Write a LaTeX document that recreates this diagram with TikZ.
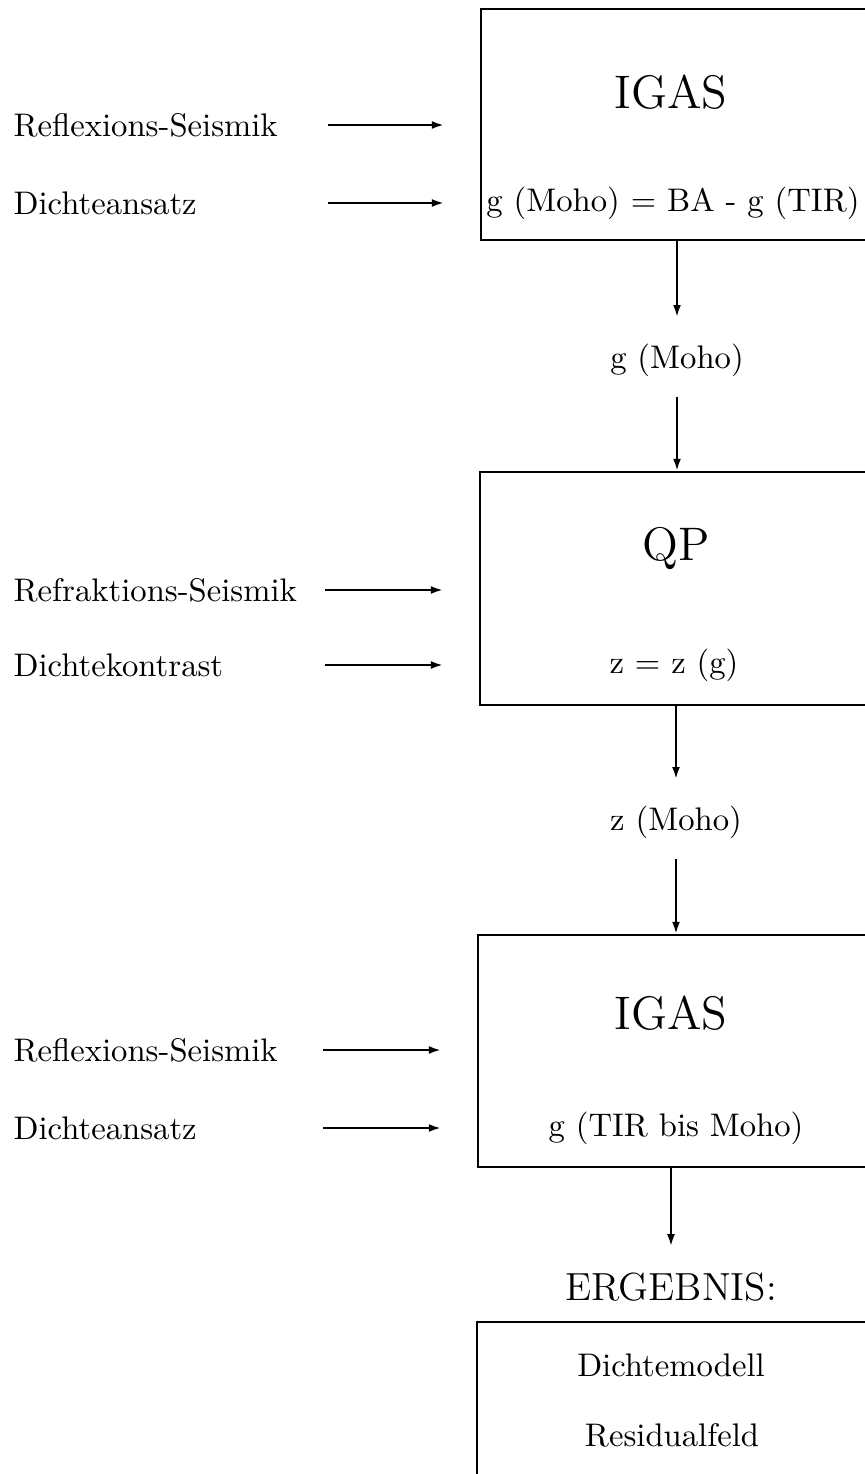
\documentclass[tikz,border=0pt]{standalone}
\usepackage{tikz}
\usetikzlibrary{positioning}
\usetikzlibrary{fit}
\usetikzlibrary{arrows.meta}

\begin{document}
\begin{tikzpicture}
 [ x=0.306pt, y=-0.306pt
 , box/.style={draw, line width=0.8pt, inner sep=0pt}
 , txt/.style={inner sep=0pt}
 , lab/.style={inner sep=0pt, anchor=west}
 , arr/.style={line width=0.6pt, -{Latex[length=3.6pt, width=2.4pt]}}
 , into/.style={arr, shorten >=11pt}
 ]
  \useasboundingbox (0,0) rectangle (865,1474);
  \clip (0,0) rectangle (865,1474);

  % the boxes (right side runs off the page)
  \node [box, fit={(481,9) (870,240)}] (igasA) {};
  \node [box, fit={(480,472) (870,705)}] (qp) {};
  \node [box, fit={(478,935) (870,1167)}] (igasB) {};
  \node [box, fit={(477,1322) (870,1500)}] (result) {};

  % texts in the boxes
  \node [txt] (igasAtitle) at (671,92) {\Large IGAS};
  \node [txt] (igasAformula) at (673,203) {g (Moho) = BA - g (TIR)};
  \node [txt] (qptitle) at (676,548) {\Large QP};
  \node [txt] (qpformula) at (674,665) {z = z (g)};
  \node [txt] (igasBtitle) at (671,1013) {\Large IGAS};
  \node [txt] (igasBformula) at (676,1128) {g (TIR bis Moho)};
  \node [txt] (model) at (671,1365) {Dichtemodell};
  \node [txt] (residual) at (672,1435) {Residualfeld};

  % texts between the boxes
  \node [txt] (gmoho) at (677,360) {g (Moho)};
  \node [txt] (zmoho) at (676,822) {z (Moho)};
  \node [txt] (ergebnis) at (671,1287) {\large ERGEBNIS:};

  % inputs on the left
  \node [lab] (reflA) at (13,125) {Reflexions-Seismik};
  \node [lab] (densA) at (13,203) {Dichteansatz};
  \node [lab] (refr) at (13,590) {Refraktions-Seismik};
  \node [lab] (contrast) at (13,665) {Dichtekontrast};
  \node [lab] (reflB) at (13,1050) {Reflexions-Seismik};
  \node [lab] (densB) at (13,1128) {Dichteansatz};

  \coordinate (tailA) at (328,0);
  \coordinate (tailQ) at (325,0);
  \coordinate (tailB) at (323,0);

  \draw [into] (reflA -| tailA) -- (reflA -| igasA.west);
  \draw [into] (densA -| tailA) -- (densA -| igasA.west);
  \draw [into] (refr -| tailQ) -- (refr -| qp.west);
  \draw [into] (contrast -| tailQ) -- (contrast -| qp.west);
  \draw [into] (reflB -| tailB) -- (reflB -| igasB.west);
  \draw [into] (densB -| tailB) -- (densB -| igasB.west);

  % the flow downwards
  \draw [arr, shorten >=8pt] (igasA.south -| gmoho) -- (gmoho.north);
  \draw [arr, shorten <=6pt] (gmoho.south) -- (qp.north -| gmoho);
  \draw [arr, shorten >=8pt] (qp.south -| zmoho) -- (zmoho.north);
  \draw [arr, shorten <=6pt] (zmoho.south) -- (igasB.north -| zmoho);
  \draw [arr, shorten >=8pt] (igasB.south -| ergebnis) -- (ergebnis.north);
\end{tikzpicture}
\end{document}
